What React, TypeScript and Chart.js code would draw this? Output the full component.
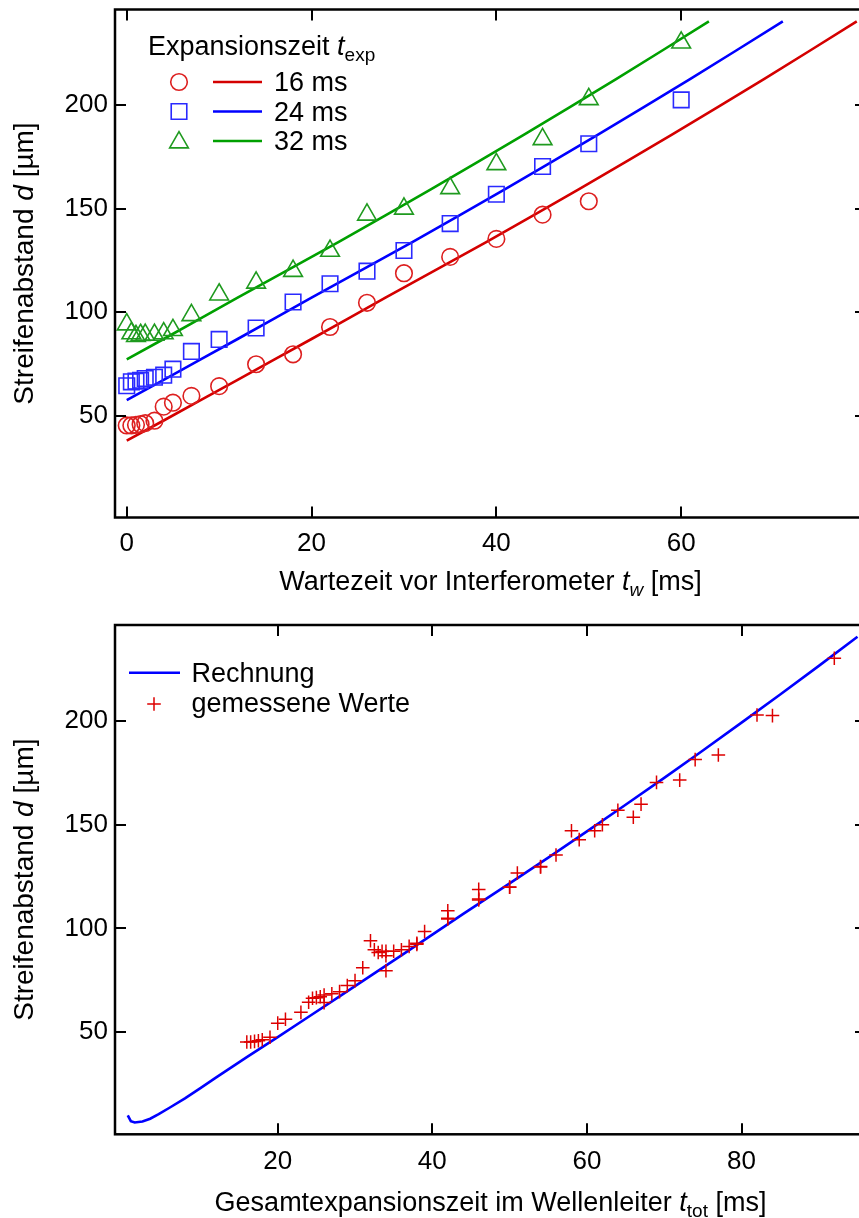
import React, { useEffect, useRef } from 'react';
import { Chart, registerables } from 'chart.js';

Chart.register(...registerables);

const FONT = "'Liberation Sans', Arial, Helvetica, sans-serif";
const FS = 26; // tick labels
const FT = 27; // axis titles & legend
const FY = 28; // y-axis title

// ---- Top panel: waiting time before interferometer t_w [ms]
const waitTimes = [0, 0.5, 1, 1.5, 2, 3, 4, 5, 7, 10, 14, 18, 22, 26, 30, 35, 40, 45, 50, 60];
const fringe16 = [45.2, 45.2, 45.5, 45.8, 46.3, 47.5, 54.3, 56.2, 59.5, 64.2, 74.8, 79.6, 92.8, 104.5, 118.8, 126.7, 135.4, 147.1, 153.6];
const fringe24 = [64.4, 66.3, 66.6, 67.0, 67.9, 68.5, 69.5, 72.4, 81.0, 86.8, 92.3, 104.9, 113.7, 119.8, 129.8, 142.8, 157.0, 170.4, 181.4, 202.6];
const fringe32 = [94.0, 89.7, 88.4, 88.9, 89.0, 89.0, 89.7, 91.3, 98.5, 108.5, 114.2, 119.9, 129.6, 147.1, 150.0, 159.9, 171.5, 183.6, 202.9, 230.3];
const expansionTimes = [16, 24, 32];
const seriesLabels = ['16 ms', '24 ms', '32 ms'];

// ---- Calculation ("Rechnung"): total expansion time t_tot [ms] -> d [µm]
const calcTime = [0.6, 1, 1.5, 2.5, 3.5, 4.6, 6, 8, 10, 12, 14, 16, 20, 24, 28, 32, 36, 40, 44, 50, 55, 60, 65, 70, 75, 80, 85, 90, 95];
const calcFringe = [9.8, 7.0, 6.4, 6.9, 8.2, 10.4, 13.5, 18.0, 23.0, 28.0, 33.0, 37.9, 47.6, 57.4, 67.2, 77.1, 87.0, 97.0, 107.0, 121.7, 134.1, 146.8, 159.6, 172.6, 185.8, 199.2, 212.8, 226.6, 240.6];

// ---- Ticks
const xTicksTop = [0, 20, 40, 60];
const xTicksBottom = [20, 40, 60, 80];
const yTicks = [50, 100, 150, 200];

const fringeSeries = [fringe16, fringe24, fringe32];
const markerStyles = ['circle', 'rect', 'triangle'];
const markerRadii = [8.3, 11, 10.8];
const markerColors = ['#dd2020', '#2a2aff', '#1f9a1f'];
const lineColors = ['#d40000', '#0000ff', '#00a000'];
const crossColor = '#dd0000';

type Part = { text: string; italic?: boolean; sub?: boolean };

function drawRich(ctx: CanvasRenderingContext2D, parts: Part[], x: number, y: number, size: number, align: 'left' | 'center') {
  const subSize = Math.round(size * 0.72);
  const fontOf = (p: Part) => `${p.italic ? 'italic ' : ''}${p.sub ? subSize : size}px ${FONT}`;
  let total = 0;
  const widths = parts.map((p) => {
    ctx.font = fontOf(p);
    const w = ctx.measureText(p.text).width;
    total += w;
    return w;
  });
  let cx = align === 'center' ? x - total / 2 : x;
  ctx.textAlign = 'left';
  ctx.textBaseline = 'alphabetic';
  ctx.fillStyle = '#000';
  parts.forEach((p, i) => {
    ctx.font = fontOf(p);
    ctx.fillText(p.text, cx, y + (p.sub ? size * 0.24 : 0));
    cx += widths[i];
  });
}

function drawMarker(ctx: CanvasRenderingContext2D, style: string, x: number, y: number, r: number, color: string, lw: number) {
  ctx.save();
  ctx.strokeStyle = color;
  ctx.lineWidth = lw;
  ctx.beginPath();
  if (style === 'circle') {
    ctx.arc(x, y, r, 0, Math.PI * 2);
  } else if (style === 'rect') {
    const s = r * Math.SQRT1_2;
    ctx.rect(x - s, y - s, 2 * s, 2 * s);
  } else if (style === 'triangle') {
    ctx.moveTo(x, y - r);
    ctx.lineTo(x + r * Math.sin((2 * Math.PI) / 3), y + r * 0.5);
    ctx.lineTo(x - r * Math.sin((2 * Math.PI) / 3), y + r * 0.5);
    ctx.closePath();
  } else if (style === 'cross') {
    ctx.moveTo(x - r, y);
    ctx.lineTo(x + r, y);
    ctx.moveTo(x, y - r);
    ctx.lineTo(x, y + r);
  }
  ctx.stroke();
  ctx.restore();
}

type Decor = {
  xTicks: number[];
  xTitle: Part[];
  xTitleY: number;
  yTitleX: number;
  legend: (ctx: CanvasRenderingContext2D) => void;
};

function makeDecorPlugin(id: string, decor: Decor) {
  return {
    id,
    afterDraw(chart: any) {
      const ctx: CanvasRenderingContext2D = chart.ctx;
      const { left, right, top, bottom } = chart.chartArea;
      const xs = chart.scales.x;
      const ys = chart.scales.y;
      ctx.save();
      ctx.strokeStyle = '#000';
      ctx.lineWidth = 2.5;
      ctx.strokeRect(left, top, right - left, bottom - top);
      ctx.lineWidth = 2;
      const tl = 11;
      ctx.beginPath();
      decor.xTicks.forEach((v) => {
        const px = Math.round(xs.getPixelForValue(v));
        ctx.moveTo(px, bottom);
        ctx.lineTo(px, bottom - tl);
        ctx.moveTo(px, top);
        ctx.lineTo(px, top + tl);
      });
      yTicks.forEach((v) => {
        const py = Math.round(ys.getPixelForValue(v));
        ctx.moveTo(left, py);
        ctx.lineTo(left + tl, py);
        ctx.moveTo(right, py);
        ctx.lineTo(right - tl, py);
      });
      ctx.stroke();

      // x-axis title
      drawRich(ctx, decor.xTitle, (left + right) / 2, decor.xTitleY, FT, 'center');

      // y-axis title (rotated)
      ctx.save();
      ctx.translate(decor.yTitleX, (top + bottom) / 2);
      ctx.rotate(-Math.PI / 2);
      drawRich(ctx, [{ text: 'Streifenabstand ' }, { text: 'd', italic: true }, { text: ' [µm]' }], 0, 0, FY, 'center');
      ctx.restore();

      decor.legend(ctx);
      ctx.restore();
    },
  };
}

function zeroPad(s: any) {
  s.paddingLeft = 0;
  s.paddingRight = 0;
  s.paddingTop = 0;
  s.paddingBottom = 0;
}

function baseScales(xMin: number, xMax: number, xTicks: number[], xHeight: number, xPad: number) {
  const tickFont = { family: FONT, size: FS };
  return {
    x: {
      type: 'linear',
      min: xMin,
      max: xMax,
      afterBuildTicks: (s: any) => {
        s.ticks = xTicks.map((v) => ({ value: v }));
      },
      afterFit: (s: any) => {
        s.height = xHeight;
        zeroPad(s);
      },
      ticks: { padding: xPad, font: tickFont, color: '#000', maxRotation: 0, autoSkip: false },
      grid: { display: false, drawTicks: false },
      border: { display: false },
    },
    y: {
      type: 'linear',
      min: 0.7,
      max: 246.3,
      afterBuildTicks: (s: any) => {
        s.ticks = yTicks.map((v) => ({ value: v }));
      },
      afterFit: (s: any) => {
        s.width = 115;
        zeroPad(s);
      },
      ticks: { padding: 7, font: tickFont, color: '#000', autoSkip: false },
      grid: { display: false, drawTicks: false },
      border: { display: false },
    },
  };
}

const CW = 870;
const TOP_H = 605;
const BOT_H = 613;

function TopPanel() {
  const ref = useRef<HTMLCanvasElement>(null);
  useEffect(() => {
    if (!ref.current) return;
    const markerSets = expansionTimes.map((te, k) => ({
      label: seriesLabels[k],
      data: fringeSeries[k].map((d, i) => ({ x: waitTimes[i], y: d })),
      pointStyle: markerStyles[k],
      pointRadius: markerRadii[k],
      pointHoverRadius: markerRadii[k],
      pointBorderColor: markerColors[k],
      pointBackgroundColor: 'rgba(0,0,0,0)',
      pointBorderWidth: 1.6,
      showLine: false,
      order: 1,
    }));
    const lineSets = expansionTimes.map((te, k) => ({
      label: seriesLabels[k] + ' Rechnung',
      data: calcTime
        .map((t, i) => ({ x: t - te, y: calcFringe[i] }))
        .filter((p) => p.x >= 0),
      borderColor: lineColors[k],
      borderWidth: 2.6,
      pointRadius: 0,
      showLine: true,
      tension: 0,
      fill: false,
      order: 2,
    }));
    const legend = (ctx: CanvasRenderingContext2D) => {
      drawRich(ctx, [{ text: 'Expansionszeit ' }, { text: 't', italic: true }, { text: 'exp', sub: true }], 148, 55, FT, 'left');
      const rows = [82, 111.5, 141];
      rows.forEach((cy, k) => {
        drawMarker(ctx, markerStyles[k], 179, cy + (k === 2 ? 1.5 : 0), markerRadii[k], markerColors[k], 1.6);
        ctx.save();
        ctx.strokeStyle = lineColors[k];
        ctx.lineWidth = 2.6;
        ctx.beginPath();
        ctx.moveTo(213, cy);
        ctx.lineTo(262, cy);
        ctx.stroke();
        ctx.restore();
        drawRich(ctx, [{ text: seriesLabels[k] }], 274, cy + 9, FT, 'left');
      });
    };
    const chart = new Chart(ref.current, {
      type: 'scatter',
      data: { datasets: [...markerSets, ...lineSets] as any },
      options: {
        animation: false,
        responsive: false,
        devicePixelRatio: 1,
        layout: { autoPadding: false, padding: { top: 9.5, right: CW - 866, left: 0, bottom: 0 } },
        plugins: { legend: { display: false }, tooltip: { enabled: false } },
        scales: baseScales(-1.27, 80, xTicksTop, TOP_H - 517.5, 10.5) as any,
      },
      plugins: [
        makeDecorPlugin('decorTop', {
          xTicks: xTicksTop,
          xTitle: [{ text: 'Wartezeit vor Interferometer ' }, { text: 't', italic: true }, { text: 'w', italic: true, sub: true }, { text: ' [ms]' }],
          xTitleY: 590,
          yTitleX: 33,
          legend,
        }),
      ],
    });
    return () => chart.destroy();
  }, []);
  return <canvas ref={ref} width={CW} height={TOP_H} style={{ display: 'block', width: CW, height: TOP_H }} />;
}

function BottomPanel() {
  const ref = useRef<HTMLCanvasElement>(null);
  useEffect(() => {
    if (!ref.current) return;
    const measured: { x: number; y: number }[] = [];
    expansionTimes.forEach((te, k) => {
      fringeSeries[k].forEach((d, i) => measured.push({ x: waitTimes[i] + te, y: d }));
    });
    const legend = (ctx: CanvasRenderingContext2D) => {
      ctx.save();
      ctx.strokeStyle = '#0000ff';
      ctx.lineWidth = 2.6;
      ctx.beginPath();
      ctx.moveTo(129, 67.7);
      ctx.lineTo(180, 67.7);
      ctx.stroke();
      ctx.restore();
      drawRich(ctx, [{ text: 'Rechnung' }], 191.5, 77, FT, 'left');
      drawMarker(ctx, 'cross', 154, 99, 6.8, crossColor, 1.5);
      drawRich(ctx, [{ text: 'gemessene Werte' }], 191.5, 107, FT, 'left');
    };
    const chart = new Chart(ref.current, {
      type: 'scatter',
      data: {
        datasets: [
          {
            label: 'gemessene Werte',
            data: measured,
            pointStyle: 'cross',
            pointRadius: 6.8,
            pointHoverRadius: 6.8,
            pointBorderColor: crossColor,
            pointBorderWidth: 1.5,
            showLine: false,
            order: 1,
          },
          {
            label: 'Rechnung',
            data: calcTime.map((t, i) => ({ x: t, y: calcFringe[i] })),
            borderColor: '#0000ff',
            borderWidth: 2.6,
            pointRadius: 0,
            showLine: true,
            tension: 0,
            fill: false,
            order: 2,
          },
        ] as any,
      },
      options: {
        animation: false,
        responsive: false,
        devicePixelRatio: 1,
        layout: { autoPadding: false, padding: { top: 20, right: CW - 866, left: 0, bottom: 0 } },
        plugins: { legend: { display: false }, tooltip: { enabled: false } },
        scales: baseScales(-1.05, 96.1, xTicksBottom, BOT_H - 529.3, 12) as any,
      },
      plugins: [
        makeDecorPlugin('decorBottom', {
          xTicks: xTicksBottom,
          xTitle: [{ text: 'Gesamtexpansionszeit im Wellenleiter ' }, { text: 't', italic: true }, { text: 'tot', sub: true }, { text: ' [ms]' }],
          xTitleY: 606,
          yTitleX: 33,
          legend,
        }),
      ],
    });
    return () => chart.destroy();
  }, []);
  return <canvas ref={ref} width={CW} height={BOT_H} style={{ display: 'block', width: CW, height: BOT_H }} />;
}

export default function App() {
  return (
    <div style={{ position: 'absolute', left: 0, top: 0, width: 859, height: 1218, overflow: 'hidden', background: '#fff' }}>
      <TopPanel />
      <BottomPanel />
    </div>
  );
}
